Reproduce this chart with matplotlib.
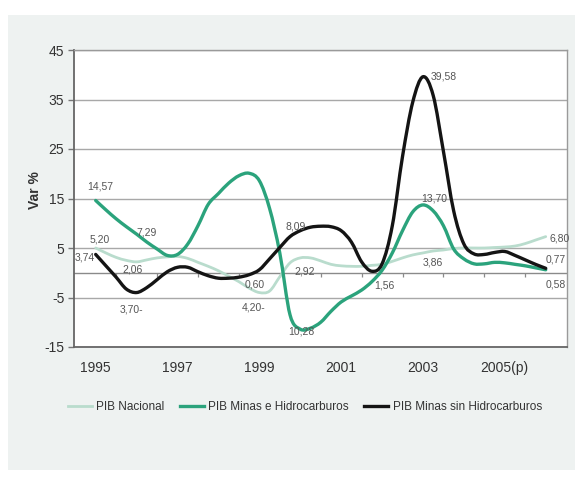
import numpy as np
import matplotlib
matplotlib.use("Agg")
import matplotlib.pyplot as plt
from matplotlib.patches import Rectangle, PathPatch
from matplotlib.path import Path
from matplotlib.lines import Line2D

plt.rcParams['font.family'] = ['Liberation Sans', 'DejaVu Sans']
plt.rcParams['axes.unicode_minus'] = False

# Quarterly readings of the curves, 1995.00 .. 2006.00
t = np.arange(1995.0, 2006.01, 0.25)

pib_nacional = [5.0, 4.0, 3.1, 2.5, 2.2, 2.6, 3.0, 3.2, 3.3, 2.9, 2.1, 1.3,
                0.4, -0.7, -1.8, -3.1, -4.0, -3.7, -0.8, 2.0, 3.0, 3.0, 2.4, 1.7,
                1.4, 1.3, 1.3, 1.5, 1.7, 2.3, 3.0, 3.6, 4.0, 4.4, 4.6, 4.9,
                5.0, 5.0, 5.0, 5.1, 5.2, 5.4, 5.9, 6.6, 7.3]

pib_minas_hidro = [14.6, 12.7, 10.9, 9.3, 7.8, 6.2, 4.8, 3.5, 3.7, 5.8, 9.5, 13.8,
                   16.0, 18.1, 19.6, 20.1, 18.6, 13.0, 4.0, -8.5, -11.4, -11.2, -10.0, -7.8,
                   -5.9, -4.7, -3.5, -1.8, 0.5, 4.0, 8.5, 12.3, 13.7, 12.5, 9.5, 4.8,
                   2.8, 1.8, 1.8, 2.1, 2.0, 1.7, 1.4, 1.0, 0.6]

pib_minas_sin = [3.7, 1.4, -0.9, -3.3, -4.0, -3.0, -1.4, 0.2, 1.1, 1.1, 0.2, -0.6,
                 -1.1, -1.1, -0.9, -0.4, 0.6, 2.8, 5.1, 7.3, 8.5, 9.2, 9.4, 9.3,
                 8.5, 6.2, 2.2, 0.3, 1.8, 9.5, 23.5, 34.5, 39.6, 35.8, 24.5, 12.5,
                 5.8, 3.8, 3.7, 4.1, 4.3, 3.5, 2.6, 1.7, 0.9]

series_names = ["PIB Nacional", "PIB Minas e Hidrocarburos", "PIB Minas sin Hidrocarburos"]

tick_years = [1995, 1997, 1999, 2001, 2003, 2005]
tick_labels = ["1995", "1997", "1999", "2001", "2003", "2005(p)"]
category_years = list(range(1995, 2007))

# data labels (text, x, y)
label_texts = ["14,57", "7,29", "5,20", "3,74", "2,06", "3,70-", "0,60", "4,20-",
               "8,09", "2,92", "10,28", "1,56", "3,86", "13,70", "39,58",
               "6,80", "0,77", "0,58"]
label_x = [1995.12, 1996.24, 1995.10, 1994.73, 1995.90, 1995.88, 1998.88, 1998.85,
           1999.90, 2000.10, 2000.03, 2002.05, 2003.24, 2003.27, 2003.50,
           2006.34, 2006.24, 2006.24]
label_y = [17.4, 8.1, 6.7, 3.0, 0.6, -7.5, -2.4, -7.1,
           9.4, 0.3, -11.8, -2.6, 2.1, 15.1, 39.7,
           6.9, 2.6, -2.4]


def smooth_path(x, y):
    """Bezier path (Catmull-Rom control points) through the data points."""
    x = np.asarray(x, float)
    y = np.asarray(y, float)
    pts = np.column_stack([x, y])
    n = len(pts)
    verts = [pts[0]]
    codes = [Path.MOVETO]
    for i in range(n - 1):
        p0 = pts[i - 1] if i > 0 else pts[i]
        p1 = pts[i]
        p2 = pts[i + 1]
        p3 = pts[i + 2] if i + 2 < n else pts[i + 1]
        c1 = p1 + (p2 - p0) / 6.0
        c2 = p2 - (p3 - p1) / 6.0
        verts += [c1, c2, p2]
        codes += [Path.CURVE4] * 3
    return Path(verts, codes)


fig = plt.figure(figsize=(5.81, 4.79), dpi=100, facecolor='white')
bg = Rectangle((8 / 581, 1 - 470 / 479), 567 / 581, 455 / 479,
               transform=fig.transFigure, facecolor='#eef2f1',
               edgecolor='none', zorder=-10)
fig.patches.append(bg)

ax = fig.add_axes([74 / 581, 1 - 347 / 479, 493 / 581, 297 / 479])
ax.set_zorder(5)
ax.set_facecolor('white')

c_light = '#b9dccd'
c_green = '#2ba37c'
c_black = '#141414'

ax.set_xlim(1994.47, 2006.52)
ax.set_ylim(-15, 45)
ax.set_yticks([-15, -5, 5, 15, 25, 35, 45])
ax.yaxis.grid(True, color='#a8a8a8', linewidth=1.0)
ax.set_axisbelow(True)
ax.axhline(0, color='#8a8a8a', linewidth=1.0, zorder=1)
ax.vlines([y + 0.5 for y in category_years[:-1]], -0.9, 0, color='#8a8a8a',
          linewidth=0.9, zorder=1)

styles = [(pib_nacional, c_light, 2.0, 3),
          (pib_minas_hidro, c_green, 2.4, 4),
          (pib_minas_sin, c_black, 2.4, 5)]
handles = []
for (vals, col, lw, z), name in zip(styles, series_names):
    patch = PathPatch(smooth_path(t, vals), facecolor='none', edgecolor=col,
                      linewidth=lw, zorder=z, capstyle='round', joinstyle='round')
    ax.add_patch(patch)
    handles.append(Line2D([], [], color=col, linewidth=lw, label=name))

for s, x, y in zip(label_texts, label_x, label_y):
    ax.text(x, y, s, ha='center', va='center', fontsize=7.5, color='#555555',
            zorder=6, clip_on=False)

ax.set_xticks(tick_years)
ax.set_xticklabels(tick_labels)
ax.tick_params(axis='x', length=0, pad=10, labelsize=10, colors='#333333')
ax.tick_params(axis='y', length=4, width=1, color='#777777', labelsize=10,
               labelcolor='#333333', pad=3)

for side in ['left', 'bottom']:
    ax.spines[side].set_color('#666666')
    ax.spines[side].set_linewidth(1.3)
for side in ['top', 'right']:
    ax.spines[side].set_color('#9a9a9a')
    ax.spines[side].set_linewidth(1.0)

fig.text(35 / 581, 1 - 190 / 479, "Var %", rotation=90, ha='center', va='center',
         fontsize=10, fontweight='bold', color='#333333')

fig.legend(handles=handles, loc='center', bbox_to_anchor=(305 / 581, 1 - 407 / 479),
           ncol=3, frameon=False, fontsize=8.5, handlelength=2.0, handletextpad=0.4,
           columnspacing=1.3, labelcolor='#333333')

fig.savefig("out.png", dpi=100, facecolor='white')
